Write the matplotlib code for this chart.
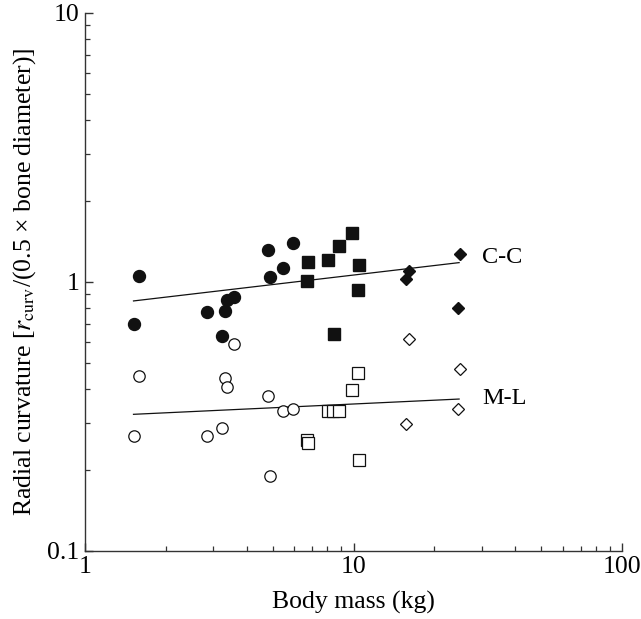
import numpy as np
import matplotlib
matplotlib.use("Agg")
from matplotlib import pyplot as plt
from matplotlib.ticker import FuncFormatter, LogLocator

# body mass (kg) and radial curvature
cc_circle_x = [1.52, 1.60, 2.84, 3.25, 3.34, 3.39, 3.59, 4.79, 4.90, 5.47, 5.96]
cc_circle_y = [0.70, 1.05, 0.77, 0.63, 0.78, 0.86, 0.88, 1.31, 1.04, 1.13, 1.39]
cc_square_x = [6.78, 6.69, 8.05, 8.82, 9.88, 10.49, 10.40, 8.43]
cc_square_y = [1.19, 1.01, 1.21, 1.36, 1.52, 1.16, 0.93, 0.64]
cc_diamond_x = [16.05, 15.64, 24.85, 24.57]
cc_diamond_y = [1.10, 1.03, 1.27, 0.80]

ml_circle_x = [1.52, 1.60, 2.85, 3.25, 3.34, 3.39, 3.59, 4.79, 4.90, 5.47, 5.96]
ml_circle_y = [0.268, 0.447, 0.268, 0.287, 0.439, 0.406, 0.587, 0.378, 0.190, 0.331, 0.337]
ml_square_x = [10.35, 9.91, 8.05, 8.40, 8.82, 6.69, 6.78, 10.45]
ml_square_y = [0.460, 0.397, 0.330, 0.330, 0.330, 0.259, 0.251, 0.218]
ml_diamond_x = [16.05, 24.85, 24.57, 15.64]
ml_diamond_y = [0.614, 0.476, 0.337, 0.297]

cc_fit_x = [1.52, 24.7]
cc_fit_y = [0.85, 1.18]
ml_fit_x = [1.52, 24.7]
ml_fit_y = [0.322, 0.367]


def main():
    plt.rcParams['font.family'] = ['Liberation Serif', 'DejaVu Serif']
    plt.rcParams['mathtext.fontset'] = 'stix'
    plt.rcParams['font.size'] = 18.5

    fig = plt.figure(figsize=(6.41, 6.19), dpi=100)
    ax = fig.add_axes([0.132, 0.110, 0.839, 0.869])

    ink = '#111111'
    # fitted lines
    ax.plot(cc_fit_x, cc_fit_y, color=ink, lw=0.9)
    ax.plot(ml_fit_x, ml_fit_y, color=ink, lw=0.9)

    # C-C (filled)
    ax.plot(cc_circle_x, cc_circle_y, 'o', ms=8.6, color=ink, mec=ink)
    ax.plot(cc_square_x, cc_square_y, 's', ms=8.4, color=ink, mec=ink)
    ax.plot(cc_diamond_x, cc_diamond_y, 'D', ms=6.2, color=ink, mec=ink)
    # M-L (open)
    ax.plot(ml_circle_x, ml_circle_y, 'o', ms=8.2, mfc='white', mec=ink, mew=0.9)
    ax.plot(ml_square_x, ml_square_y, 's', ms=8.0, mfc='white', mec=ink, mew=0.9)
    ax.plot(ml_diamond_x, ml_diamond_y, 'D', ms=6.4, mfc='white', mec=ink, mew=0.9)

    ax.text(30, 1.23, 'C-C', va='center', ha='left', fontsize=17.5)
    ax.text(30, 0.37, 'M-L', va='center', ha='left', fontsize=17.5)

    ax.set_xscale('log'); ax.set_yscale('log')
    ax.set_xlim(1, 100); ax.set_ylim(0.1, 10)

    fmt = FuncFormatter(lambda v, p: '%g' % v)
    ax.xaxis.set_major_formatter(fmt); ax.yaxis.set_major_formatter(fmt)
    ax.xaxis.set_minor_locator(LogLocator(base=10, subs=np.arange(2, 10)))
    ax.yaxis.set_minor_locator(LogLocator(base=10, subs=np.arange(2, 10)))
    ax.xaxis.set_minor_formatter(plt.NullFormatter())
    ax.yaxis.set_minor_formatter(plt.NullFormatter())

    ax.spines['top'].set_visible(False)
    ax.spines['right'].set_visible(False)
    for s in ('left', 'bottom'):
        ax.spines[s].set_linewidth(1.0)
        ax.spines[s].set_color('#333333')
    ax.tick_params(which='major', direction='in', length=5.8, width=1.0, color='#333333', pad=4)
    ax.tick_params(which='minor', direction='in', length=3.3, width=0.9, color='#333333')

    ax.set_xlabel('Body mass (kg)', labelpad=9)
    ax.set_ylabel('Radial curvature [$r_{\\mathrm{curv}}$/(0.5 \u00d7 bone diameter)]', labelpad=6)

    fig.savefig('out.png', dpi=100)

if __name__ == "__main__":
    main()
